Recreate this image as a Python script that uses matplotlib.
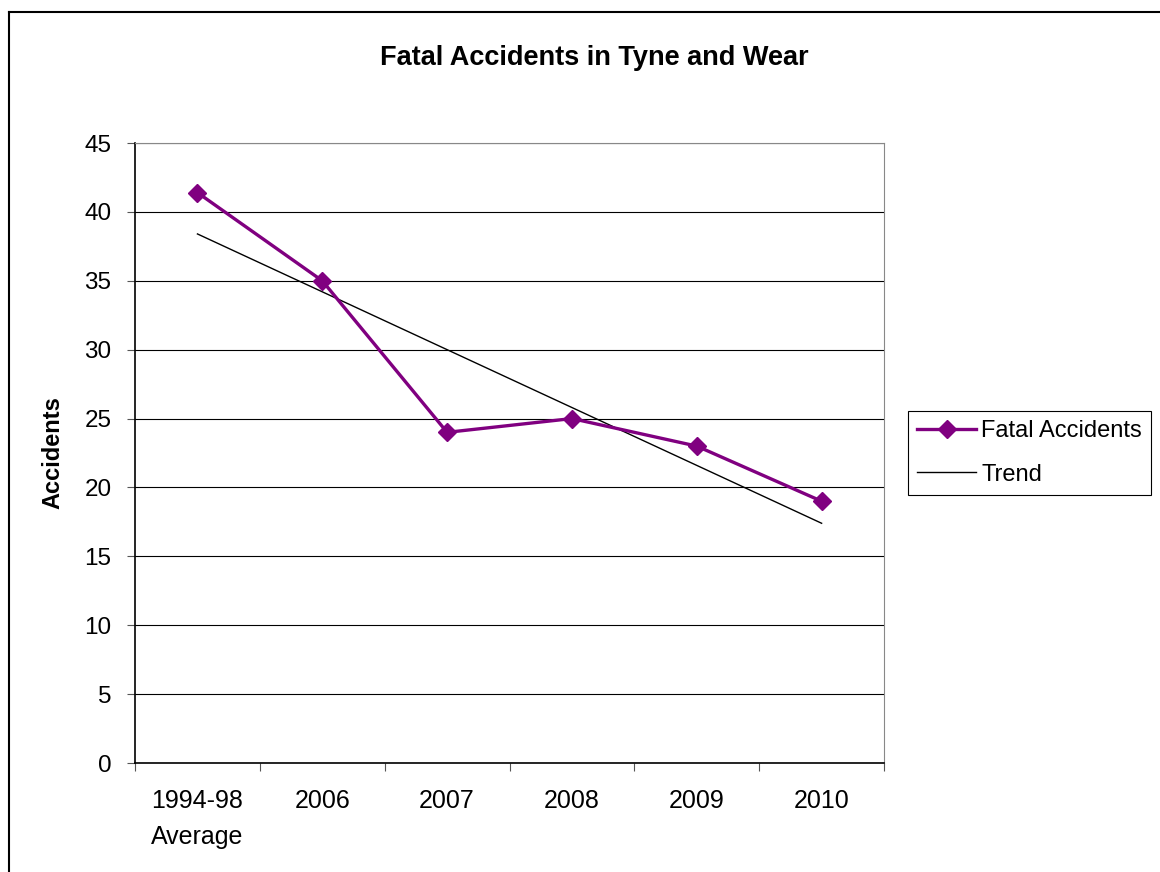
import matplotlib.pyplot as plt
from matplotlib.lines import Line2D
import numpy as np

plt.rcParams['font.family'] = ['Liberation Sans', 'DejaVu Sans']

categories = ["1994-98\nAverage", "2006", "2007", "2008", "2009", "2010"]
fatal = [41.4, 35, 24, 25, 23, 19]

x = np.arange(1, len(categories) + 1)
# linear trend line fitted to the series
slope, intercept = np.polyfit(x, fatal, 1)
trend = slope * x + intercept

fig = plt.figure(figsize=(11.6, 8.72), dpi=100)
# chart border (only top and left edges show in the crop)
fig.add_artist(Line2D([9 / 1160, 1], [1 - 12 / 872, 1 - 12 / 872], color='black', linewidth=1.5))
fig.add_artist(Line2D([9 / 1160, 9 / 1160], [0, 1 - 12 / 872], color='black', linewidth=1.5))

ax = fig.add_axes([0.1164, 0.125, 0.6457, 0.711])

ax.set_axisbelow(True)
ax.yaxis.grid(True, color='black', linewidth=0.8)
ax.plot(x, fatal, color='#800080', linewidth=2.4, marker='D', markersize=9,
        label='Fatal Accidents', zorder=3)
ax.plot(x, trend, color='black', linewidth=1, label='Trend', zorder=2)

ax.set_xlim(0.5, len(categories) + 0.5)
ax.set_ylim(0, 45)
ax.set_yticks(range(0, 50, 5))
ax.set_xticks(np.arange(0.5, len(categories) + 1, 1))
ax.set_xticklabels([])
ax.set_xticks(x, minor=True)
ax.set_xticklabels(categories, minor=True, fontsize=18, linespacing=1.6)
ax.tick_params(axis='x', which='minor', length=0, pad=19)
ax.tick_params(axis='x', which='major', direction='out', length=6, color='#555555')
ax.tick_params(axis='y', direction='out', length=6, labelsize=17.5, pad=11, color='#555555')
for lbl in ax.get_xticklabels(minor=True):
    lbl.set_verticalalignment('top')

for s in ['top', 'right']:
    ax.spines[s].set_color('#888888')
for s in ['left', 'bottom']:
    ax.spines[s].set_color('black')
    ax.spines[s].set_linewidth(1.2)

ax.set_ylabel('Accidents', fontsize=17, fontweight='bold', labelpad=14)
fig.text(0.512, 0.933, 'Fatal Accidents in Tyne and Wear', fontsize=19.5,
         fontweight='bold', ha='center', va='center')

leg = ax.legend(loc='center left', bbox_to_anchor=(1.032, 0.5), fontsize=17,
                frameon=True, fancybox=False, edgecolor='black', framealpha=1,
                borderpad=0.4, handlelength=2.5, handletextpad=0.2, labelspacing=0.9,
                borderaxespad=0)
leg.get_frame().set_linewidth(0.8)

fig.savefig('out.png', dpi=100)
